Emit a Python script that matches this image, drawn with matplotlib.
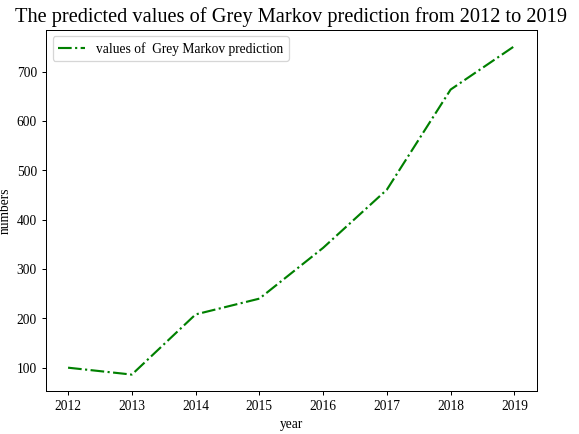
import matplotlib
matplotlib.use("Agg")
import matplotlib.pyplot as plt

plt.rcParams['font.family'] = ['Liberation Serif', 'DejaVu Serif']
plt.rcParams['font.size'] = 10.8

# Grey Markov predicted values per year
years = [2012, 2013, 2014, 2015, 2016, 2017, 2018, 2019]
predicted = [100, 86, 208, 240, 343, 461, 664, 752]

fig = plt.figure(figsize=(6.4, 4.8), dpi=579 / 6.4)
ax = fig.add_axes([0.079, 0.099, 0.848, 0.832])

ax.plot(years, predicted, color='green', linestyle='-.', linewidth=1.7,
        label='values of  Grey Markov prediction')
ax.set_xticks(years)
ax.set_xlabel('year')
ax.set_ylabel('numbers')
ax.set_title('The predicted values of Grey Markov prediction from 2012 to 2019', fontsize=16.2)
ax.legend(loc='upper left')

fig.savefig('out.png', dpi=579 / 6.4)
